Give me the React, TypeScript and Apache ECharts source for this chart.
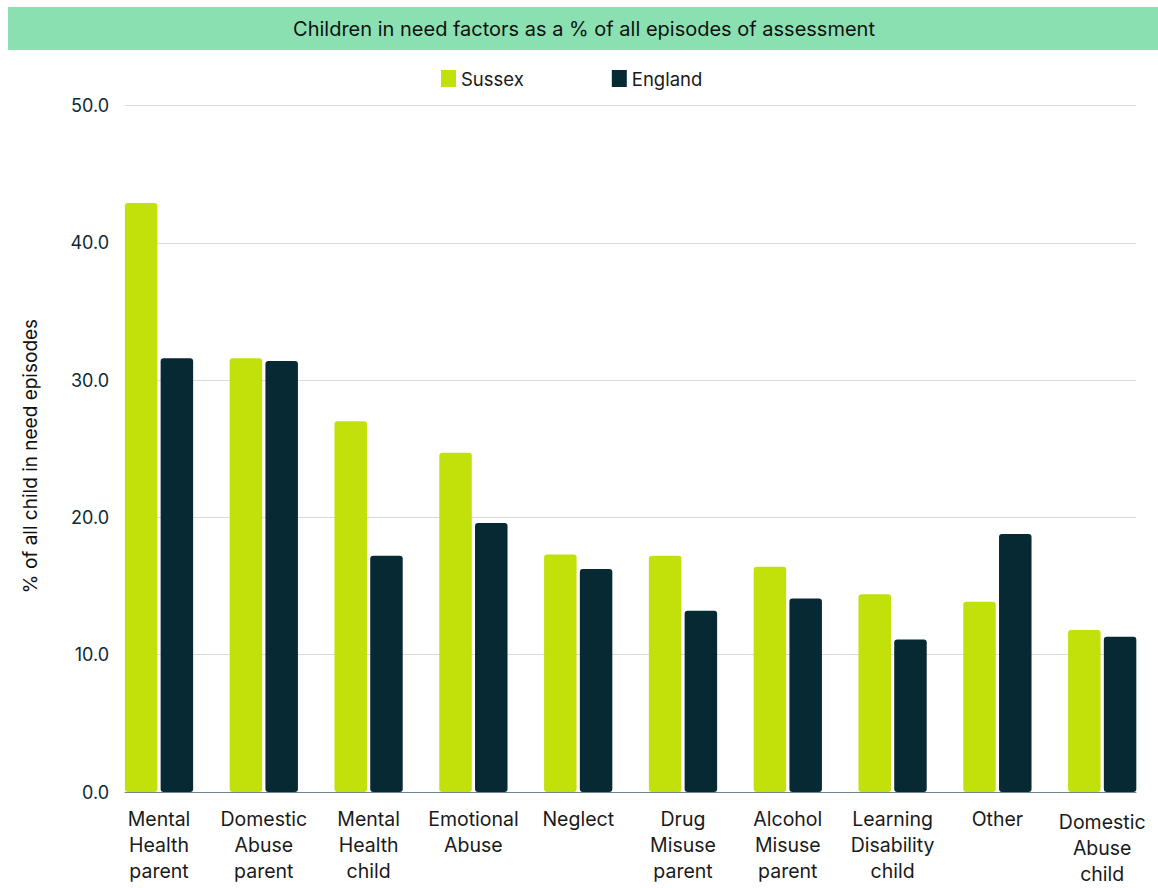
import React, { useEffect, useRef } from "react";
import * as echarts from "echarts";

const categories = [
  "Mental\nHealth\nparent",
  "Domestic\nAbuse\nparent",
  "Mental\nHealth\nchild",
  "Emotional\nAbuse",
  "Neglect",
  "Drug\nMisuse\nparent",
  "Alcohol\nMisuse\nparent",
  "Learning\nDisability\nchild",
  "Other",
  "Domestic\nAbuse\nchild",
];
const sussex = [42.9, 31.6, 27.0, 24.7, 17.3, 17.2, 16.4, 14.4, 13.85, 11.8];
const england = [31.6, 31.4, 17.2, 19.6, 16.25, 13.2, 14.1, 11.1, 18.8, 11.3];
const seriesNames = ["Sussex", "England"];
const title = "Children in need factors as a % of all episodes of assessment";
const yAxisTitle = "% of all child in need episodes";

const FONT = "Inter";
const LIME = "#c2e00a";
const DARK = "#072933";

export default function App() {
  const ref = useRef<HTMLDivElement>(null);
  useEffect(() => {
    if (!ref.current) return;
    const chart = echarts.init(ref.current, null, { renderer: "svg" });
    const top = 105.5;
    const bottom = 888 - 792;
    const labelData = categories.map((c, i) =>
      i === categories.length - 1
        ? { value: c, textStyle: { padding: [3, 0, 0, 0] } }
        : c
    );
    chart.setOption({
      animation: false,
      textStyle: { fontFamily: FONT },
      legend: {
        data: seriesNames,
        left: 436,
        top: 64,
        itemWidth: 15,
        itemHeight: 17,
        itemGap: 88,
        icon: "rect",
        textStyle: { fontFamily: FONT, fontSize: 18.5, color: "#1a1a1a" },
      },
      graphic: [
        {
          type: "rect",
          shape: { x: 8, y: 7, width: 1150, height: 43 },
          style: { fill: "#8be0b2" },
          silent: true,
        },
        {
          type: "text",
          x: 584,
          y: 29,
          style: {
            text: title,
            fontFamily: FONT,
            fontSize: 20,
            fill: "#111111",
            align: "center",
            verticalAlign: "middle",
          },
        },
        {
          type: "text",
          x: 30,
          y: 456,
          rotation: Math.PI / 2,
          style: {
            text: yAxisTitle,
            fontFamily: FONT,
            fontSize: 19,
            fill: "#111111",
            align: "center",
            verticalAlign: "middle",
          },
        },
      ],
      grid: [
        { left: 125, right: 22, top, bottom },
        { left: 106.6, right: 3.4, top, bottom },
      ],
      xAxis: [
        {
          gridIndex: 0,
          type: "category",
          data: categories,
          axisLine: { show: true, lineStyle: { color: "#6f8590", width: 1 } },
          axisTick: { show: false },
          axisLabel: { show: false },
        },
        {
          gridIndex: 1,
          type: "category",
          data: labelData,
          axisLine: { show: false },
          axisTick: { show: false },
          axisLabel: {
            interval: 0,
            margin: 14,
            fontFamily: FONT,
            fontSize: 19.5,
            lineHeight: 26,
            color: "#1a1a1a",
          },
        },
      ],
      yAxis: [
        {
          gridIndex: 0,
          type: "value",
          min: 0,
          max: 50,
          interval: 10,
          axisLine: { show: false },
          axisTick: { show: false },
          splitLine: { show: true, lineStyle: { color: "#d3dbdb", width: 1 } },
          axisLabel: {
            margin: 16,
            fontFamily: FONT,
            fontSize: 18,
            color: "#0b2a33",
            formatter: (v: number) => v.toFixed(1),
          },
        },
        {
          gridIndex: 1,
          type: "value",
          min: 0,
          max: 50,
          interval: 10,
          show: false,
          splitLine: { show: false },
        },
      ],
      series: [
        {
          name: seriesNames[0],
          type: "bar",
          xAxisIndex: 1,
          yAxisIndex: 1,
          data: sussex,
          barWidth: 32.5,
          barGap: "10%",
          itemStyle: { color: LIME, borderRadius: 3 },
        },
        {
          name: seriesNames[1],
          type: "bar",
          xAxisIndex: 1,
          yAxisIndex: 1,
          data: england,
          barWidth: 32.5,
          barGap: "10%",
          itemStyle: { color: DARK, borderRadius: 3 },
        },
      ],
    });
    return () => chart.dispose();
  }, []);
  return (
    <div
      ref={ref}
      style={{ position: "absolute", left: 0, top: 0, width: 1158, height: 888 }}
    />
  );
}
